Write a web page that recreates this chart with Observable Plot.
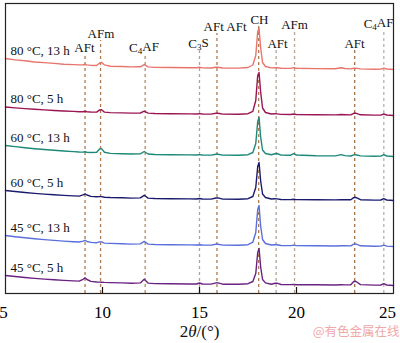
<!DOCTYPE html>
<html><head><meta charset="utf-8">
<script src="https://cdn.jsdelivr.net/npm/d3@7"></script>
<script src="https://cdn.jsdelivr.net/npm/@observablehq/plot@0.6"></script>
<style>
html,body{margin:0;padding:0;background:#fff;}
#chart{width:400px;height:343px;}
</style></head><body><div id="chart"></div>
<script>
// 2θ sample positions (degrees)
const twoTheta = [5, 5.5, 6, 6.5, 7, 7.5, 8, 8.5, 8.8, 9.0, 9.1, 9.2, 9.4, 9.7, 9.85, 9.95, 10.1, 10.4, 11, 11.5, 11.95, 12.15, 12.35, 12.7, 13.5, 14.5, 14.85, 15.0, 15.15, 15.6, 15.85, 15.95, 16.2, 17, 17.5, 17.75, 17.9, 18.0, 18.07, 18.15, 18.25, 18.4, 18.7, 18.9, 19.0, 19.2, 19.7, 19.85, 20.0, 21, 22, 22.3, 22.5, 22.8, 22.95, 23.05, 23.3, 24, 24.35, 24.5, 24.65, 25];

const seriesNames = ["80 °C, 13 h", "80 °C, 5 h", "60 °C, 13 h", "60 °C, 5 h", "45 °C, 13 h", "45 °C, 5 h"];
const seriesOffsets = [224, 178, 137, 93, 47, 8];

// intensities (a.u.)
const int80_13 = [11, 9.6, 8.7, 7.5, 6.9, 6.1, 5.3, 4.9, 4.6, 4.7, 5.0, 4.6, 4.1, 4.0, 6.5, 7.2, 4.6, 3.3, 3.0, 2.6, 2.7, 4.8, 2.6, 2.1, 2.0, 1.8, 1.7, 2.2, 1.6, 1.5, 2.3, 2.2, 1.5, 1.4, 2.0, 4.5, 14, 38, 41, 22, 7, 3.0, 1.6, 1.9, 1.7, 1.2, 1.1, 1.9, 1.2, 0.9, 0.7, 1.8, 1.0, 0.6, 1.3, 1.4, 0.6, 0.3, 0.4, 1.4, 0.5, 0];
const int80_5 = [8.5, 7.6, 6.9, 6.2, 5.6, 5.0, 4.5, 4.1, 3.8, 3.8, 4.2, 3.8, 3.5, 3.4, 5.6, 5.8, 3.4, 2.9, 2.6, 2.4, 2.5, 4.3, 2.4, 2.0, 1.8, 1.6, 1.5, 1.9, 1.5, 1.4, 2.2, 2.3, 1.4, 1.3, 1.8, 4.2, 15, 40, 43, 24, 7.5, 3.0, 1.5, 1.7, 1.6, 1.1, 1.0, 1.5, 1.0, 0.8, 0.6, 1.0, 0.8, 0.6, 2.2, 2.4, 0.7, 0.4, 0.4, 1.5, 0.5, 0];
const int60_13 = [11, 9.9, 8.8, 7.8, 7.0, 6.2, 5.5, 4.9, 4.5, 4.4, 4.7, 4.3, 4.0, 4.3, 7.5, 7.9, 4.3, 3.1, 2.8, 2.5, 2.6, 5.0, 2.5, 2.0, 1.8, 1.6, 1.5, 1.9, 1.5, 1.4, 2.3, 2.3, 1.4, 1.3, 1.8, 4.0, 13, 35, 39, 20, 6.5, 3.0, 1.8, 2.8, 3.0, 1.4, 1.3, 2.8, 1.5, 0.8, 0.6, 1.9, 0.9, 0.5, 1.6, 1.7, 0.6, 0.3, 0.4, 1.9, 0.5, 0];
const int60_5 = [10, 9.0, 8.0, 7.1, 6.4, 5.7, 5.1, 4.6, 4.4, 5.6, 6.6, 5.5, 4.1, 3.7, 3.9, 3.9, 3.3, 3.0, 2.7, 2.4, 2.6, 5.2, 2.4, 2.0, 1.8, 1.6, 1.5, 2.0, 1.5, 1.4, 2.5, 2.6, 1.4, 1.3, 1.8, 4.0, 13, 34, 38, 20, 6.5, 3.0, 1.5, 1.7, 1.6, 1.0, 0.9, 1.2, 0.9, 0.8, 0.6, 0.8, 0.7, 0.7, 2.9, 3.2, 0.8, 0.4, 0.5, 1.8, 0.5, 0];
const int45_13 = [11, 9.8, 8.7, 7.7, 6.9, 6.1, 5.4, 4.8, 4.5, 5.4, 6.2, 5.0, 4.1, 3.8, 4.6, 4.6, 3.4, 3.1, 2.7, 2.4, 2.6, 5.1, 2.4, 2.0, 1.8, 1.6, 1.5, 1.8, 1.5, 1.4, 2.3, 2.3, 1.4, 1.3, 1.8, 4.3, 14, 37, 41, 21, 7.0, 3.0, 1.5, 1.8, 1.7, 1.0, 0.9, 1.4, 0.9, 0.7, 0.5, 0.8, 0.7, 0.6, 2.4, 2.6, 0.7, 0.3, 0.4, 1.4, 0.4, 0];
const int45_5 = [10, 9.0, 8.0, 7.1, 6.4, 5.7, 5.1, 4.6, 4.4, 6.2, 7.6, 6.0, 4.1, 3.5, 3.4, 3.3, 3.1, 2.9, 2.6, 2.3, 2.6, 6.2, 2.4, 1.9, 1.7, 1.5, 1.5, 2.5, 1.5, 1.4, 2.6, 2.7, 1.3, 1.3, 1.8, 4.0, 12, 33, 37, 19, 6.0, 2.6, 1.3, 2.2, 2.3, 1.0, 0.9, 1.1, 0.8, 0.7, 0.5, 0.7, 0.6, 0.8, 4.0, 4.3, 0.9, 0.4, 0.5, 1.8, 0.5, 0];
const seriesValues = [int80_13, int80_5, int60_13, int60_5, int45_13, int45_5];

// phase reference lines
const peakAngles = [9.1, 9.9, 12.2, 15.0, 15.9, 18.05, 18.95, 19.9, 23.0, 24.5];
const peakLineTops = [239, 253, 239, 243, 260, 267, 243, 262, 243, 263];

// phase labels
const labelTexts = ["AFt", "AFm", "C4AF", "C3S", "AFt AFt", "CH", "AFt", "AFm", "AFt", "C4AF"];
const labelAngles = [9.07, 9.92, 12.14, 14.95, 16.32, 18.09, 19.02, 19.9, 22.99, 24.23];
const labelLevels = [246, 260, 246, 250, 267, 274, 250, 269, 250, 270];

const xTicks = [5, 10, 15, 20, 25];

// styles
const seriesColors = ["#e8746c", "#9a1553", "#1d8878", "#1b1b6e", "#5b6fdc", "#6a2282"];
const peakLineColors = ["#b07a4c", "#b07a4c", "#b58a60", "#b8a08a", "#b07a4c", "#b07a4c", "#b3a595", "#bca48c", "#a8703f", "#bdb0a3"];

const lineData = [];
seriesNames.forEach((name, i) => {
  twoTheta.forEach((t, j) => lineData.push({series: name, x: t, y: seriesOffsets[i] + seriesValues[i][j]}));
});
const seriesLabels = seriesNames.map((name, i) => ({name, y: seriesOffsets[i] + seriesValues[i][0]}));
const peaks = peakAngles.map((a, i) => ({a, top: peakLineTops[i], color: peakLineColors[i]}));
const labels = labelTexts.map((t, i) => ({t, a: labelAngles[i], lv: labelLevels[i]}));

const chart = Plot.plot({
  width: 400, height: 343,
  marginLeft: 5, marginRight: 7, marginTop: 3, marginBottom: 50,
  style: {fontFamily: "'Liberation Serif','Times New Roman',serif", fontSize: "13px", background: "#fff", overflow: "visible"},
  x: {domain: [5, 25], label: null},
  y: {domain: [0, 290], axis: null},
  color: {domain: seriesNames, range: seriesColors},
  marks: [
    Plot.ruleX(peaks, {x: "a", y1: 0, y2: "top", stroke: "color", strokeWidth: 1.3, strokeDasharray: "3,3"}),
    Plot.line(lineData, {x: "x", y: "y", z: "series", stroke: "series", strokeWidth: 1.4}),
    Plot.text(seriesLabels, {y: "y", text: "name", frameAnchor: "left", dx: 5, dy: -8, textAnchor: "start", fontSize: 13, fill: "#111"}),
    Plot.text(labels, {x: "a", y: "lv", text: "t", fontSize: 13, fill: "#111"}),
    Plot.ruleX(xTicks.slice(1, -1), {x: d => d, y1: 0, y2: 6, stroke: "#111", strokeWidth: 1.2}),
    Plot.axisX({ticks: xTicks, tickSize: 0, tickPadding: 12, fontSize: 17, tickFormat: d => String(d), label: null}),
    Plot.text(["2θ/(°)"], {text: d => d, frameAnchor: "bottom", dy: 43, fontSize: 17, fill: "#111"}),
    Plot.text(["@有色金属在线"], {text: d => d, frameAnchor: "bottom-right", textAnchor: "end", dx: 6, dy: 42, fontSize: 12.5, fill: "#f0a8a8", fontFamily: "'Noto Sans CJK SC', sans-serif"}),
    Plot.frame({stroke: "#222", strokeWidth: 1.2})
  ]
});

d3.select(chart).selectAll("text").each(function() {
  const t = this.textContent;
  const s = d3.select(this);
  const m = /^C(\d)(\w+)$/.exec(t);
  if (m) {
    s.text("C");
    s.append("tspan").attr("font-size", "0.7em").attr("dy", "0.3em").text(m[1]);
    s.append("tspan").attr("dy", "-0.3em").text(m[2]);
  } else if (t === "2θ/(°)") {
    s.text("2");
    s.append("tspan").attr("font-style", "italic").text("θ");
    s.append("tspan").text("/(°)");
  } else if (t === "25" && this.closest("[aria-label='x-axis tick label']")) {
    s.attr("dx", -6);
  } else if (t === "5" && this.closest("[aria-label='x-axis tick label']")) {
    s.attr("dx", -2);
  }
});

document.getElementById("chart").appendChild(chart);
</script>
</body></html>
